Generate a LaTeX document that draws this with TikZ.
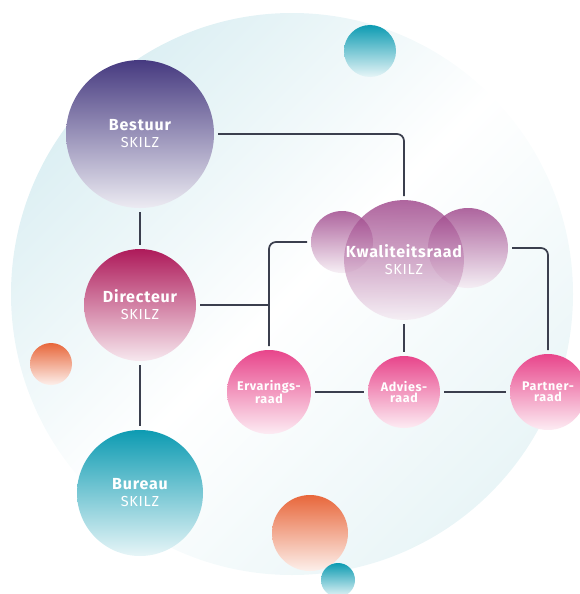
\documentclass[tikz,border=0pt]{standalone}
\usepackage{fontspec}
\setmainfont[LetterSpace=5]{Fira Sans}

\definecolor{linegray}{HTML}{3B3F4E}
\definecolor{bgcyan}{HTML}{DCEFF3}
\definecolor{bgfaint}{HTML}{E9F5F7}
\definecolor{bestuurcol}{HTML}{463A80}
\definecolor{directeurcol}{HTML}{AE1A5A}
\definecolor{bureaucol}{HTML}{0D9BB2}
\definecolor{kwalcol}{HTML}{95337F}
\definecolor{raadcol}{HTML}{E8458B}
\definecolor{orangecol}{HTML}{E8673B}

\begin{document}
\begin{tikzpicture}[x=1pt, y=-1pt,
		every node/.style = {shape=circle, inner sep=0pt, outer sep=4pt,
				align=center, text=white},
		bubble/.style = {top color=#1, bottom color=#1!10!white},
		bigtext/.style = {font=\fontsize{16}{17}\selectfont\bfseries},
		smalltext/.style = {font=\fontsize{12.5}{11.5}\selectfont\bfseries},
		link/.style = {draw=linegray, line width=1.7pt, rounded corners=7pt}]
	\useasboundingbox (0,0) rectangle (579,594);
	% background and loose dots
	\shade [top color=bgcyan, bottom color=bgfaint, middle color=white, shading angle=45]
		(292,294) circle (281);
	\shade [bubble=bureaucol] (370,51) circle (26);
	\shade [bubble=orangecol] (51,364) circle (21);
	\shade [bubble=orangecol] (310,533) circle (38);
	\shade [bubble=bureaucol] (338,580) circle (17);
	
	\node (bestuur) [bubble=bestuurcol, minimum size=148pt, bigtext] at (140,134)
		{Bestuur\\{\mdseries\fontsize{14.5}{17}\selectfont SKILZ}};
	\node (directeur) [bubble=directeurcol, minimum size=112pt, bigtext] at (140,305)
		{Directeur\\{\mdseries\fontsize{14.5}{17}\selectfont SKILZ}};
	\node (bureau) [bubble=bureaucol, minimum size=126pt, bigtext] at (140,493)
		{Bureau\\{\mdseries\fontsize{14.5}{17}\selectfont SKILZ}};
	
	\node (kwleft) [bubble=kwalcol, fill opacity=0.75, minimum size=62pt] at (342,242) {};
	\node (kwright) [bubble=kwalcol, fill opacity=0.75, minimum size=80pt] at (468,248) {};
	\node (kwaliteit) [bubble=kwalcol, fill opacity=0.75, text opacity=1,
		minimum size=100pt, bigtext] at (404,260)
		{Kwaliteitsraad\\{\mdseries\fontsize{14.5}{17}\selectfont SKILZ}};
	
	\node (ervarings) [bubble=raadcol, minimum size=84pt, smalltext] at (269,392) {Ervarings-\\raad};
	\node (advies) [bubble=raadcol, minimum size=72pt, smalltext] at (404,392) {Advies-\\raad};
	\node (partner) [bubble=raadcol, minimum size=76pt, smalltext] at (548,392) {Partner-\\raad};
	
	% connectors
	\draw [link] (bestuur) -- (directeur);
	\draw [link] (directeur) -- (bureau);
	\draw [link] (bestuur.east) -| (kwaliteit.north);
	\draw [link] (kwleft.west) -| (ervarings.north);
	\draw [link] (directeur.east) -- (directeur.east -| ervarings.north);
	\draw [link] (kwright.east) -| (partner.north);
	\draw [link] (kwaliteit.south) -- (advies.north);
	\draw [link] (ervarings) -- (advies);
	\draw [link] (advies) -- (partner);
\end{tikzpicture}
\end{document}
